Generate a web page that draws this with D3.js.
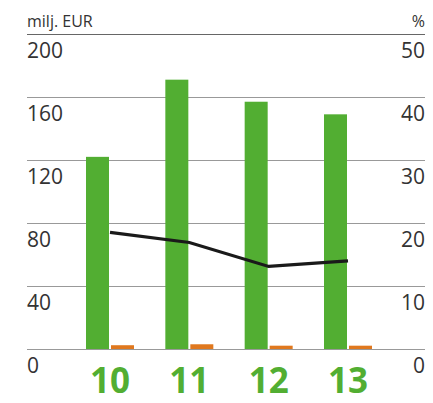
<!DOCTYPE html>
<html>
<head>
<meta charset="utf-8">
<script src="https://cdn.jsdelivr.net/npm/d3@7"></script>
<style>
  body { margin: 0; background: #fff; }
  text { font-family: "Open Sans", "Noto Sans", sans-serif; }
</style>
</head>
<body>
<svg id="chart" width="433" height="403"></svg>
<script>
// years, revenue (milj. EUR), small orange series (milj. EUR), share (%)
const years = ["10", "11", "12", "13"];
const greenVals = [122, 171, 157, 149];
const orangeVals = [2.4, 3.0, 2.1, 2.1];
const pctVals = [18.5, 16.9, 13.1, 14.0];
const leftTicks = [0, 40, 80, 120, 160, 200];
const rightTicks = [0, 10, 20, 30, 40, 50];

const x0 = 27, x1 = 425, yTop = 34, yBot = 349;

const svg = d3.select("#chart");

const x = d3.scaleBand().domain(years).range([86, 372]).paddingInner(0.395).paddingOuter(0);
const yL = d3.scaleLinear().domain([0, 200]).range([yBot, yTop]);
const yR = d3.scaleLinear().domain([0, 50]).range([yBot, yTop]);
const bw = x.bandwidth();

// gridlines
svg.append("g")
  .selectAll("line")
  .data(leftTicks)
  .enter().append("line")
  .attr("x1", x0).attr("x2", x1)
  .attr("y1", d => Math.round(yL(d)) + 0.5)
  .attr("y2", d => Math.round(yL(d)) + 0.5)
  .attr("stroke", d => d === 200 ? "#666" : "#999")
  .attr("stroke-width", 1);

// bars
svg.append("g")
  .selectAll("rect")
  .data(years)
  .enter().append("rect")
  .attr("x", d => x(d))
  .attr("width", bw / 2 - 1)
  .attr("y", (d, i) => yL(greenVals[i]))
  .attr("height", (d, i) => yBot - yL(greenVals[i]))
  .attr("fill", "#52ae32");

svg.append("g")
  .selectAll("rect")
  .data(years)
  .enter().append("rect")
  .attr("x", d => x(d) + bw / 2 + 1)
  .attr("width", bw / 2 - 1)
  .attr("y", (d, i) => yL(orangeVals[i]))
  .attr("height", (d, i) => yBot - yL(orangeVals[i]))
  .attr("fill", "#e0781e");

// percentage line
const line = d3.line()
  .x((d, i) => x(years[i]) + bw / 2)
  .y(d => yR(d));

svg.append("path")
  .datum(pctVals)
  .attr("d", line)
  .attr("fill", "none")
  .attr("stroke", "#1a1a1a")
  .attr("stroke-width", 3.2);

// tick labels
svg.append("g")
  .selectAll("text")
  .data(leftTicks)
  .enter().append("text")
  .attr("x", x0)
  .attr("y", d => yL(d) + 24)
  .attr("font-size", 21)
  .attr("fill", "#333")
  .text(d => d);

svg.append("g")
  .selectAll("text")
  .data(rightTicks)
  .enter().append("text")
  .attr("x", x1)
  .attr("y", d => yR(d) + 24)
  .attr("text-anchor", "end")
  .attr("font-size", 21)
  .attr("fill", "#333")
  .text(d => d);

// unit labels
svg.append("text")
  .attr("x", x0).attr("y", 27)
  .attr("font-size", 16).attr("fill", "#333")
  .text("milj. EUR");

svg.append("text")
  .attr("x", x1).attr("y", 27)
  .attr("text-anchor", "end")
  .attr("font-size", 16).attr("fill", "#333")
  .text("%");

// category labels
svg.append("g")
  .selectAll("text")
  .data(years)
  .enter().append("text")
  .attr("x", d => x(d) + bw / 2)
  .attr("y", 393)
  .attr("text-anchor", "middle")
  .attr("font-size", 35)
  .attr("font-weight", "bold")
  .attr("fill", "#52ae32")
  .text(d => d);
</script>
</body>
</html>
